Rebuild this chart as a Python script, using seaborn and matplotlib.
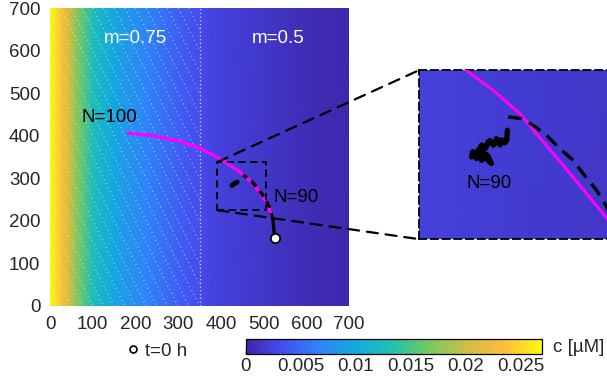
import numpy as np
import matplotlib
matplotlib.use('Agg')
import matplotlib.pyplot as plt
from matplotlib.colors import LinearSegmentedColormap
from matplotlib.patches import Rectangle, ConnectionPatch
from matplotlib.lines import Line2D
import seaborn as sns

# concentration profile along x (um) -> c (uM)
conc_x = [0, 15, 30, 45, 60, 75, 100, 125, 150, 175, 200, 225, 250, 275, 300,
          325, 350, 375, 425, 475, 525, 575, 625, 675, 700]
conc_c = [0.0268, 0.0252, 0.0228, 0.0203, 0.0178, 0.0158, 0.0128, 0.0110, 0.0097,
          0.0086, 0.0077, 0.0068, 0.006, 0.0052, 0.0045, 0.0038, 0.0032, 0.0026,
          0.0021, 0.0017, 0.0013, 0.0009, 0.0006, 0.0004, 0.0003]

# deterministic path (magenta)
det_x = [183, 241, 300, 350, 400, 440, 470, 495, 512, 522]
det_y = [406, 400, 388, 371, 345, 318, 293, 262, 232, 202]

# stochastic path: solid start, dashed part, cell cluster at N=90
start_x = [526, 524, 522]
start_y = [160, 180, 202]
dash_x = [522, 514, 497, 472, 452]
dash_y = [202, 232, 262, 293, 308]
blob_x = [426, 431, 438]
blob_y = [283, 287, 291]
t0 = (526, 160)

# zoomed window (inset)
zoom_x = (391.5, 507)
zoom_y = (225, 338)
in_det_x = [408, 421.3, 436.4, 452.5, 466, 479, 491, 505, 515]
in_det_y = [348, 337, 324.6, 309, 291, 274, 258, 239, 222]
in_dash_x = [445.4, 453.5, 460.5, 468.6, 476.6, 484.7, 490.7, 498.8, 503.8, 512]
in_dash_y = [306.8, 305.7, 301.2, 294.5, 285.6, 277.8, 268.9, 257.8, 248.9, 232]
in_blob_x = [445.0, 444.6, 443.5, 441.5, 440.6, 438.4, 437.5, 436.4, 434.5, 433.3,
             432.0, 431.4, 429.5, 428.3, 427.0, 426.3, 424.0, 423.3, 425.0, 426.3,
             428.0, 429.4, 431.0, 432.4, 434.0, 435.4, 433.0, 430.0, 427.5]
in_blob_y = [297.9, 291.2, 289.5, 291.5, 288.0, 292.3, 289.0, 287.9, 291.0, 290.1,
             286.0, 285.6, 288.0, 285.6, 284.0, 282.3, 283.5, 280.0, 281.5, 279.0,
             281.0, 277.8, 280.0, 279.0, 277.0, 275.6, 281.0, 283.0, 281.0]

cbar_ticks = [0, 0.005, 0.01, 0.015, 0.02, 0.025]
cbar_labels = ['0', '0.005', '0.01', '0.015', '0.02', '0.025']
cmax = 0.0269

FS = 13.5

sns.set_style('white')
plt.rcParams['font.family'] = ['Liberation Sans', 'DejaVu Sans']

parula = LinearSegmentedColormap.from_list('parula', [
    (0.0, (0.243, 0.149, 0.659)),
    (0.12, (0.275, 0.30, 0.94)),
    (0.25, (0.18, 0.52, 0.97)),
    (0.38, (0.07, 0.68, 0.86)),
    (0.5, (0.14, 0.76, 0.68)),
    (0.62, (0.46, 0.79, 0.38)),
    (0.75, (0.82, 0.74, 0.26)),
    (0.87, (0.99, 0.74, 0.24)),
    (1.0, (0.976, 0.983, 0.054)),
])

fig = plt.figure(figsize=(6.07, 3.82), dpi=100)
ax = fig.add_axes([0.0824, 0.199, 0.4926, 0.780])
ax_in = fig.add_axes([0.690, 0.374, 0.315, 0.442])
cax = fig.add_axes([0.4048, 0.0733, 0.4876, 0.039])

X, Y = np.meshgrid(conc_x, [0, 700])
C = np.tile(conc_c, (2, 1))


def draw_field(a):
    return a.pcolormesh(X, Y, C, cmap=parula, vmin=0, vmax=cmax,
                        shading='gouraud', zorder=0)


def path(a, xs, ys, **kw):
    sns.lineplot(x=xs, y=ys, sort=False, estimator=None, ax=a, **kw)


mesh = draw_field(ax)

# dotted hatching of the m=0.75 zone
for a0 in range(-350, 351, 25):
    xs = np.array([max(a0, 0), min(a0 + 350, 350)])
    if xs[1] <= xs[0]:
        continue
    ax.plot(xs, 700 - 2 * (xs - a0), color='white', lw=0.8, alpha=0.55,
            linestyle=(0, (1, 3)), zorder=1)
ax.axvline(350, color='white', lw=0.9, alpha=0.8, linestyle=(0, (1, 2)), zorder=1)

path(ax, det_x, det_y, color='#ff00ff', lw=2.4, zorder=3)
path(ax, start_x, start_y, color='black', lw=2.4, zorder=4)
path(ax, dash_x, dash_y, color='black', lw=2.4, linestyle=(0, (2.2, 1.6)), zorder=4)
path(ax, blob_x, blob_y, color='black', lw=3.5, zorder=4)
sns.scatterplot(x=[t0[0]], y=[t0[1]], ax=ax, s=45, color='white',
                edgecolor='black', linewidth=1.3, zorder=6)

ax.add_patch(Rectangle((zoom_x[0], zoom_y[0]), 505 - zoom_x[0], zoom_y[1] - zoom_y[0],
                       fill=False, ec='black', lw=1.3, ls=(0, (4, 2.5)), zorder=5))

ax.text(199, 629, 'm=0.75', color='white', fontsize=FS, ha='center', va='center')
ax.text(534, 629, 'm=0.5', color='white', fontsize=FS, ha='center', va='center')
ax.text(140, 442, 'N=100', color='black', fontsize=FS, ha='center', va='center')
ax.text(524, 256, 'N=90', color='black', fontsize=FS, ha='left', va='center')

ax.set_xlim(0, 700)
ax.set_ylim(0, 700)
ax.set_xticks(range(0, 701, 100))
ax.set_yticks(range(0, 701, 100))
ax.tick_params(length=0, labelsize=FS, pad=7)
ax.tick_params(axis='x', pad=7)
for s in ax.spines.values():
    s.set_visible(False)

# inset
draw_field(ax_in)
path(ax_in, in_det_x, in_det_y, color='#ff00ff', lw=2.2, zorder=3)
path(ax_in, in_dash_x, in_dash_y, color='black', lw=2.4, linestyle=(0, (4.2, 2.4)), zorder=4)
path(ax_in, in_blob_x, in_blob_y, color='black', lw=3.8, zorder=4)
ax_in.text(420, 262, 'N=90', color='black', fontsize=FS, ha='left', va='center')
ax_in.set_xlim(*zoom_x)
ax_in.set_ylim(*zoom_y)
ax_in.set_xticks([])
ax_in.set_yticks([])
for s in ax_in.spines.values():
    s.set_linestyle((0, (4, 2.5)))
    s.set_linewidth(1.3)
    s.set_color('black')

for ya, yb in [(zoom_y[1], 1), (zoom_y[0], 0)]:
    fig.add_artist(ConnectionPatch(xyA=(zoom_x[0], ya), coordsA=ax.transData,
                                   xyB=(0, yb), coordsB=ax_in.transAxes,
                                   color='black', lw=1.6, ls=(0, (5, 3.5))))

# colorbar
cb = fig.colorbar(mesh, cax=cax, orientation='horizontal')
cb.set_ticks(cbar_ticks)
cb.set_ticklabels(cbar_labels)
cax.tick_params(direction='in', length=3.5, width=1, labelsize=FS, pad=3, color='black')
cb.outline.set_linewidth(0.9)
cb.outline.set_edgecolor('black')
cax.text(1.037, 0.45, 'c [µM]', transform=cax.transAxes, fontsize=FS, ha='left', va='center')

# legend for the start position
h = Line2D([], [], marker='o', ls='none', markersize=5, markerfacecolor='white',
           markeredgecolor='black', markeredgewidth=1.2)
fig.legend([h], ['t=0 h'], loc='center left', bbox_to_anchor=(0.2036, 0.081),
           frameon=False, fontsize=FS, handlelength=1.0, handletextpad=0.14,
           borderpad=0, borderaxespad=0)

fig.savefig('out.png', dpi=100)
